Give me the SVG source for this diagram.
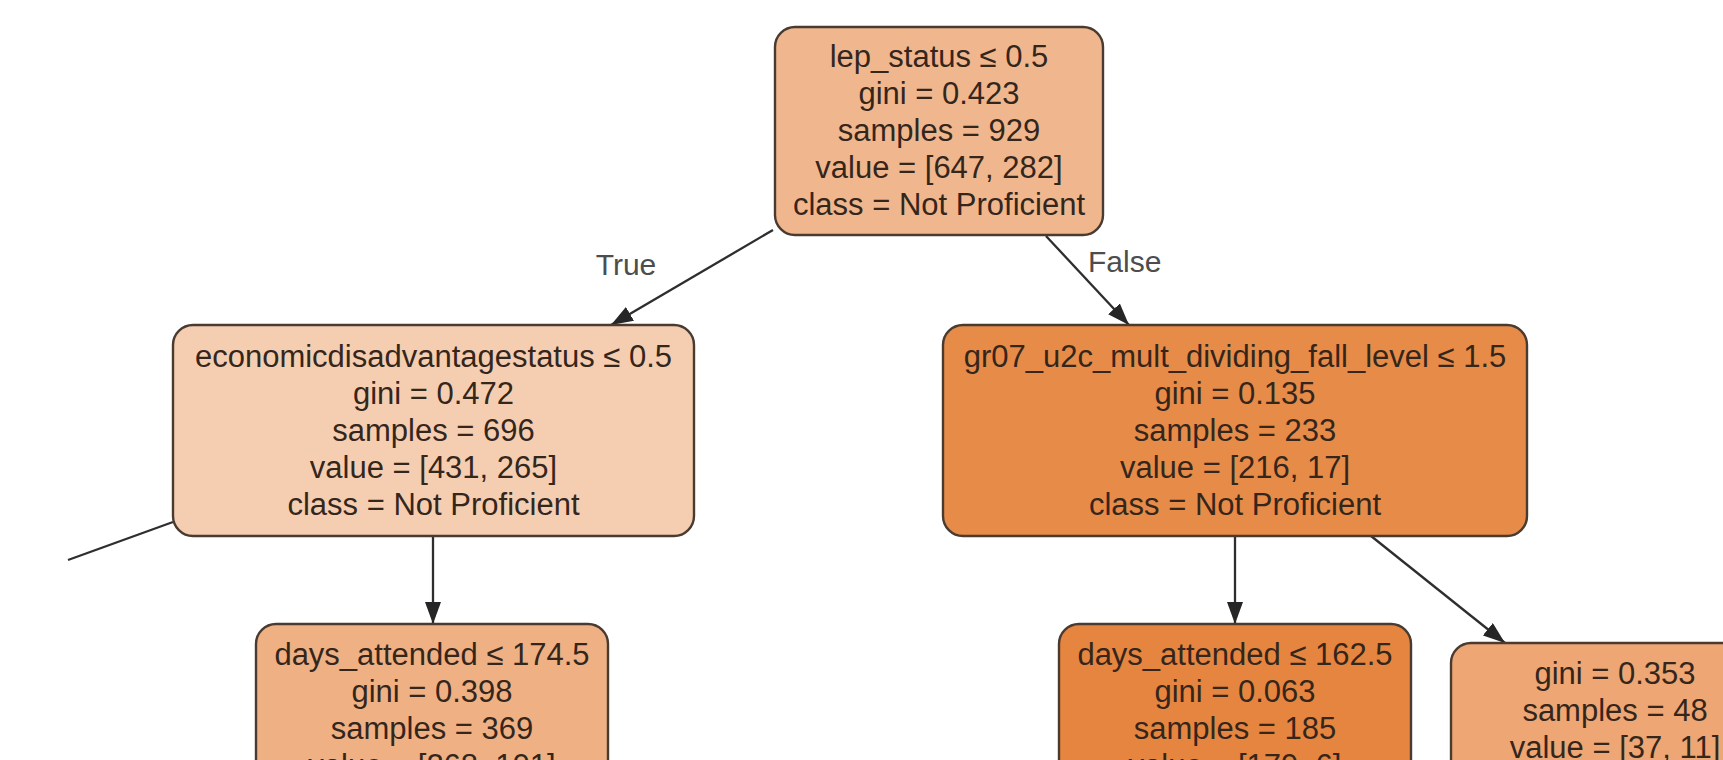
<svg xmlns="http://www.w3.org/2000/svg" width="1723" height="760" viewBox="0 0 1723 760">
  <defs>
    <marker id="arrow" markerUnits="userSpaceOnUse" markerWidth="22" markerHeight="16" refX="22" refY="8" orient="auto">
      <path d="M0,0 L22,8 L0,16 z" fill="#262626"/>
    </marker>
    <style>
      .node rect { stroke: #4a3b30; stroke-width: 2.4; }
      .node text { font-family: "Liberation Sans", Arial, sans-serif; font-size: 31px; fill: #35261c; text-anchor: middle; }
      .edges line { stroke: #2e2e2e; stroke-width: 2.3; }
      .edge-label { font-family: "Liberation Sans", Arial, sans-serif; font-size: 30px; fill: #4d4d4d; }
    </style>
  </defs>
  <rect width="1723" height="760" fill="#ffffff"/>

  <!-- connectors -->
  <g id="edges" class="edges">
    <line x1="773" y1="230" x2="611" y2="325" marker-end="url(#arrow)"/>
    <line x1="1046" y1="236" x2="1129" y2="325" marker-end="url(#arrow)"/>
    <line x1="173" y1="522" x2="68" y2="560"/>
    <line x1="433" y1="536" x2="433" y2="624" marker-end="url(#arrow)"/>
    <line x1="1235" y1="536" x2="1235" y2="624" marker-end="url(#arrow)"/>
    <line x1="1371" y1="536" x2="1505" y2="643" marker-end="url(#arrow)"/>
    <text class="edge-label" x="626" y="275" text-anchor="middle">True</text>
    <text class="edge-label" x="1088" y="272">False</text>
  </g>

  <!-- root split -->
  <g id="node0" class="node">
    <rect x="775" y="27" width="328" height="208" rx="20" fill="#f0b78e"/>
    <text x="939" y="67">lep_status ≤ 0.5</text>
    <text x="939" y="104">gini = 0.423</text>
    <text x="939" y="141">samples = 929</text>
    <text x="939" y="178">value = [647, 282]</text>
    <text x="939" y="215">class = Not Proficient</text>
  </g>

  <g id="node1" class="node">
    <rect x="173" y="325" width="521" height="211" rx="20" fill="#f5ceb2"/>
    <text x="433.5" y="367">economicdisadvantagestatus ≤ 0.5</text>
    <text x="433.5" y="404">gini = 0.472</text>
    <text x="433.5" y="441">samples = 696</text>
    <text x="433.5" y="478">value = [431, 265]</text>
    <text x="433.5" y="515">class = Not Proficient</text>
  </g>

  <g id="node2" class="node">
    <rect x="943" y="325" width="584" height="211" rx="20" fill="#e78b48"/>
    <text x="1235" y="367">gr07_u2c_mult_dividing_fall_level ≤ 1.5</text>
    <text x="1235" y="404">gini = 0.135</text>
    <text x="1235" y="441">samples = 233</text>
    <text x="1235" y="478">value = [216, 17]</text>
    <text x="1235" y="515">class = Not Proficient</text>
  </g>

  <!-- lower rank, running past the bottom edge -->
  <g id="node3" class="node">
    <rect x="256" y="624" width="352" height="210" rx="20" fill="#efb184"/>
    <text x="432" y="665">days_attended ≤ 174.5</text>
    <text x="432" y="702">gini = 0.398</text>
    <text x="432" y="739">samples = 369</text>
    <text x="432" y="776">value = [268, 101]</text>
  </g>

  <g id="node4" class="node">
    <rect x="1059" y="624" width="352" height="210" rx="20" fill="#e6853f"/>
    <text x="1235" y="665">days_attended ≤ 162.5</text>
    <text x="1235" y="702">gini = 0.063</text>
    <text x="1235" y="739">samples = 185</text>
    <text x="1235" y="776">value = [179, 6]</text>
  </g>

  <g id="node5" class="node">
    <rect x="1451" y="643" width="328" height="171" rx="20" fill="#eda674"/>
    <text x="1615" y="684">gini = 0.353</text>
    <text x="1615" y="721">samples = 48</text>
    <text x="1615" y="758">value = [37, 11]</text>
  </g>
</svg>
